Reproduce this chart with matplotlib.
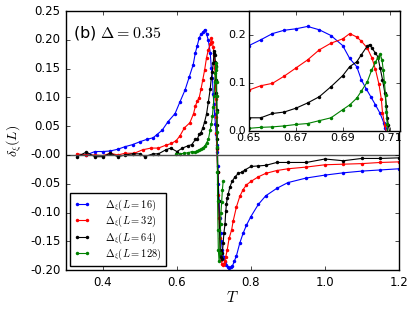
import numpy as np
import matplotlib
matplotlib.use('Agg')
import matplotlib.pyplot as plt

plt.style.use('classic')

# L = 16
T16 = [0.33, 0.355, 0.378, 0.40, 0.42, 0.44, 0.46, 0.48, 0.50, 0.518, 0.536, 0.545, 0.56, 0.576,
       0.595, 0.608, 0.622, 0.633, 0.644, 0.65, 0.655, 0.66, 0.665, 0.67, 0.675, 0.68, 0.685, 0.69,
       0.693, 0.696, 0.698, 0.700, 0.702, 0.704, 0.706, 0.7075, 0.708, 0.710, 0.712, 0.714, 0.716,
       0.718, 0.720, 0.723, 0.726, 0.730, 0.734, 0.738, 0.742, 0.746, 0.750, 0.755, 0.761, 0.770,
       0.779, 0.788, 0.80, 0.82, 0.84, 0.87, 0.90, 0.95, 1.0, 1.05, 1.1, 1.15, 1.2]
d16 = [0.0, 0.0, 0.006, 0.006, 0.007, 0.01, 0.0145, 0.018, 0.023, 0.027, 0.03, 0.035, 0.043, 0.058,
       0.072, 0.092, 0.113, 0.135, 0.157, 0.178, 0.190, 0.203, 0.210, 0.213, 0.218, 0.211, 0.199,
       0.178, 0.151, 0.134, 0.106, 0.088, 0.071, 0.054, 0.036, 0.017, 0.005, -0.02, -0.05, -0.08,
       -0.11, -0.136, -0.15, -0.165, -0.177, -0.186, -0.192, -0.195, -0.196, -0.195, -0.193, -0.185,
       -0.175, -0.153, -0.136, -0.122, -0.107, -0.086, -0.071, -0.058, -0.048, -0.040, -0.035,
       -0.031, -0.028, -0.026, -0.024]

# L = 32
T32 = [0.33, 0.355, 0.378, 0.40, 0.42, 0.44, 0.46, 0.485, 0.507, 0.53, 0.55, 0.57, 0.585, 0.598,
       0.608, 0.62, 0.635, 0.645, 0.65, 0.655, 0.66, 0.665, 0.67, 0.675, 0.68, 0.685, 0.69, 0.693,
       0.696, 0.698, 0.7005, 0.7025, 0.704, 0.7055, 0.7065, 0.707, 0.708, 0.710, 0.712, 0.714, 0.716,
       0.718, 0.720, 0.722, 0.724, 0.727, 0.730, 0.732, 0.736, 0.741, 0.748, 0.752, 0.761, 0.770,
       0.779, 0.788, 0.80, 0.82, 0.84, 0.87, 0.90, 0.95, 1.0, 1.05, 1.1, 1.15, 1.2]
d32 = [0.002, 0.0, 0.0, -0.001, 0.003, 0.0, 0.003, 0.003, 0.009, 0.012, 0.012, 0.017, 0.02, 0.025,
       0.033, 0.047, 0.056, 0.072, 0.085, 0.094, 0.099, 0.114, 0.131, 0.148, 0.169, 0.183, 0.192,
       0.203, 0.196, 0.187, 0.173, 0.152, 0.128, 0.097, 0.066, 0.038, 0.011, -0.03, -0.07, -0.11,
       -0.145, -0.17, -0.183, -0.189, -0.191, -0.19, -0.184, -0.177, -0.165, -0.145, -0.130, -0.115,
       -0.09, -0.072, -0.060, -0.052, -0.046, -0.038, -0.032, -0.027, -0.024, -0.021, -0.017,
       -0.016, -0.015, -0.013, -0.012]

# L = 64
T64 = [0.33, 0.355, 0.378, 0.40, 0.42, 0.44, 0.46, 0.48, 0.50, 0.513, 0.535, 0.55, 0.57, 0.583,
       0.60, 0.615, 0.63, 0.64, 0.65, 0.655, 0.66, 0.665, 0.67, 0.675, 0.68, 0.685, 0.69, 0.693,
       0.696, 0.698, 0.7005, 0.7015, 0.7025, 0.704, 0.705, 0.706, 0.707, 0.708, 0.7087, 0.709,
       0.7095, 0.711, 0.713, 0.715, 0.717, 0.719, 0.721, 0.723, 0.725, 0.727, 0.730, 0.732, 0.734,
       0.736, 0.739, 0.743, 0.749, 0.757, 0.766, 0.775, 0.784, 0.80, 0.82, 0.84, 0.87, 0.90, 0.95,
       1.0, 1.05, 1.1, 1.15, 1.2]
d64 = [-0.003, 0.005, -0.003, -0.003, 0.003, -0.003, 0.0, 0.002, 0.002, -0.003, 0.002, 0.002,
       0.009, 0.012, 0.006, 0.012, 0.016, 0.018, 0.027, 0.027, 0.036, 0.039, 0.047, 0.058, 0.071,
       0.092, 0.115, 0.134, 0.144, 0.159, 0.177, 0.180, 0.173, 0.162, 0.155, 0.131, 0.107, 0.079,
       0.052, 0.027, 0.012, -0.03, -0.08, -0.13, -0.165, -0.178, -0.18, -0.17, -0.153, -0.136,
       -0.12, -0.098, -0.085, -0.075, -0.067, -0.056, -0.046, -0.038, -0.032, -0.03, -0.026,
       -0.020, -0.019, -0.018, -0.013, -0.013, -0.013, -0.007, -0.010, -0.006, -0.006, -0.005]

# L = 128
T128 = [0.597, 0.608, 0.62, 0.631, 0.641, 0.65, 0.655, 0.66, 0.665, 0.67, 0.675, 0.68, 0.685, 0.69,
        0.693, 0.696, 0.698, 0.7005, 0.7023, 0.704, 0.705, 0.706, 0.7068, 0.7073, 0.7078, 0.7083,
        0.7086, 0.709, 0.7095, 0.710, 0.711, 0.712, 0.714, 0.716, 0.718, 0.719, 0.721, 0.723, 0.725]
d128 = [0.002, 0.002, 0.003, 0.004, 0.006, 0.005, 0.007, 0.008, 0.010, 0.013, 0.015, 0.021, 0.027,
        0.044, 0.054, 0.068, 0.083, 0.102, 0.126, 0.143, 0.153, 0.16, 0.148, 0.127, 0.102, 0.074,
        0.040, 0.014, -0.03, -0.08, -0.13, -0.165, -0.185, -0.17, -0.12, -0.10, -0.081, -0.06,
        -0.046]

series = [(T16, d16, 'b', r'$\Delta_\xi(L=16)$'),
          (T32, d32, 'r', r'$\Delta_\xi(L=32)$'),
          (T64, d64, 'k', r'$\Delta_\xi(L=64)$'),
          (T128, d128, 'g', r'$\Delta_\xi(L=128)$')]

fig = plt.figure(figsize=(4.15, 3.09), dpi=100, facecolor='white')
ax = fig.add_axes([0.159, 0.126, 0.802, 0.838])
for T, d, c, lab in series:
    ax.plot(T, d, color=c, marker='o', ms=2.5, mew=0, mec=c, lw=0.8, label=lab)
ax.axhline(0, color='0.3', lw=1)
ax.set_xlim(0.3, 1.2)
ax.set_ylim(-0.2, 0.25)
ax.set_xticks([0.4, 0.6, 0.8, 1.0, 1.2])
ax.set_yticks(np.arange(-0.2, 0.26, 0.05))
ax.yaxis.set_major_formatter(matplotlib.ticker.FormatStrFormatter('%.2f'))
ax.tick_params(labelsize=8.5, length=3)
ax.set_xlabel(r'$T$', fontsize=11, labelpad=1)
ax.set_ylabel(r'$\delta_\xi(L)$', fontsize=10, labelpad=4)
ax.text(0.319, 0.212, r'(b) $\Delta=0.35$', fontsize=11.5, va='center')
ax.legend(loc='lower left', fontsize=7.5, numpoints=2, handlelength=1.6,
          handletextpad=1.4, borderpad=0.4, labelspacing=0.12, borderaxespad=0.35)

ins = fig.add_axes([0.6, 0.577, 0.364, 0.387])
for T, d, c, lab in series:
    ins.plot(T, d, color=c, marker='o', ms=2.5, mew=0, mec=c, lw=0.8)
ins.set_xlim(0.65, 0.7145)
ins.set_ylim(0.0, 0.25)
ins.set_xticks([0.65, 0.67, 0.69, 0.71])
ins.set_yticks([0.0, 0.1, 0.2])
ins.tick_params(labelsize=8, length=3, pad=2)

fig.savefig('out.png', dpi=100, facecolor='white')
